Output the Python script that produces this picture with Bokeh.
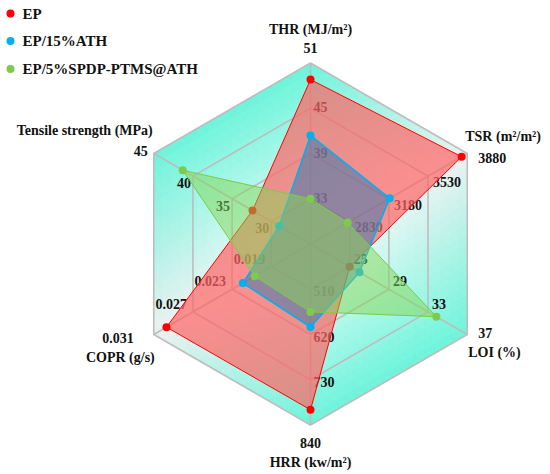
import math
from bokeh.plotting import figure
from bokeh.models import Range1d, ColumnDataSource
from bokeh.core.properties import value
from bokeh.embed import file_html
from bokeh.resources import INLINE

# ---------------- data ----------------
axis_titles = ["THR (MJ/m\u00b2)", "TSR (m\u00b2/m\u00b2)", "LOI (%)", "HRR (kw/m\u00b2)",
               "COPR (g/s)", "Tensile strength (MPa)"]
axis_min = [27, 2480, 21, 400, 0.015, 25]
axis_max = [51, 3880, 37, 840, 0.031, 45]
thr_ticks = ["33", "39", "45", "51"]
tsr_ticks = ["2830", "3180", "3530", "3880"]
loi_ticks = ["25", "29", "33", "37"]
hrr_ticks = ["510", "620", "730", "840"]
copr_ticks = ["0.019", "0.023", "0.027", "0.031"]
ts_ticks = ["30", "35", "40", "45"]
tick_labels = [thr_ticks, tsr_ticks, loi_ticks, hrr_ticks, copr_ticks, ts_ticks]

series_names = ["EP", "EP/15%ATH", "EP/5%SPDP-PTMS@ATH"]
ep = [48.8, 3830, 25.0, 803, 0.0297, 32.4]
ep_ath = [41.4, 3187, 26.0, 602, 0.0219, 29.0]
ep_spdp = [33.0, 2812, 33.85, 565, 0.0207, 41.3]
series_values = [ep, ep_ath, ep_spdp]

# ---------------- styling ----------------
R = 181.0  # radius in px (1 data unit = 1 px)
angles = [90, 30, -30, -90, -150, 150]
line_colors = ["#FF0000", "#00B0F0", "#7CCB4A"]
fill_colors = ["#FF6464", "#3C7AAE", "#86D656"]
fill_alphas = [0.7, 0.55, 0.5]
line_widths = [1.0, 1.5, 1.0]
FONT = value("'Liberation Serif', serif")

def vert(i, frac):
    a = math.radians(angles[i])
    return frac * R * math.cos(a), frac * R * math.sin(a)

p = figure(width=550, height=474, x_range=Range1d(-310, 240), y_range=Range1d(-230.5, 243.5),
           x_axis_type=None, y_axis_type=None, toolbar_location=None, output_backend="svg",
           min_border=0, outline_line_color=None, background_fill_color="white",
           border_fill_color="white")

# ---------------- gradient background (Gouraud-like) ----------------
cyan = (108, 244, 218)
whiteish = (236, 240, 240)
center_col = (250, 252, 252)
vcols = [cyan, whiteish, cyan, cyan, whiteish, cyan]

def mix(w0, w1, w2, c0, c1, c2):
    return "#%02x%02x%02x" % tuple(int(round(w0 * c0[k] + w1 * c1[k] + w2 * c2[k])) for k in range(3))

N = 18
bx, by, bc = [], [], []
for i in range(6):
    j = (i + 1) % 6
    v1 = vert(i, 1.0)
    v2 = vert(j, 1.0)
    def pt(a, b):
        return (a / N * v1[0] + b / N * v2[0], a / N * v1[1] + b / N * v2[1])
    for a in range(N):
        for b in range(N - a):
            tris = [[(a, b), (a + 1, b), (a, b + 1)]]
            if a + b < N - 1:
                tris.append([(a + 1, b), (a + 1, b + 1), (a, b + 1)])
            for tri in tris:
                ca = sum(t[0] for t in tri) / 3 / N
                cb = sum(t[1] for t in tri) / 3 / N
                pts = [pt(*t) for t in tri]
                bx.append([q[0] for q in pts])
                by.append([q[1] for q in pts])
                bc.append(mix(ca, cb, 1 - ca - cb, vcols[i], vcols[j], center_col))
p.patches(bx, by, fill_color=bc, line_color=bc, line_width=0.6)

# ---------------- grid ----------------
rx, ry = [], []
for k in range(1, 5):
    f = k / 4
    pts = [vert(i, f) for i in range(6)] + [vert(0, f)]
    rx.append([q[0] for q in pts])
    ry.append([q[1] for q in pts])
for i in range(6):
    v = vert(i, 1.0)
    rx.append([0, v[0]])
    ry.append([0, v[1]])
p.multi_line(rx, ry, line_color="#BDBDBD", line_width=1.6)

# ---------------- labels (under the polygons) ----------------
inner_off = [(3, -1, "left"), (5, 6, "left"), (4, -8, "left"), (3, 2, "left"),
             (-6, -8, "right"), (-2, 7, "right")]
outer_off = [(0, -15, "center"), (11, 4, "left"), (11, -2, "left"), (0, 18, "center"),
             (-20, 3, "right"), (-6, -3, "right")]
title_off = [(0, -34, "center"), (-2, -17, "left"), (1, 18, "left"), (0, 37, "center"),
             (1, 23, "right"), (-1, -23, "right")]

groups = {"left": dict(x=[], y=[], t=[]), "right": dict(x=[], y=[], t=[]),
          "center": dict(x=[], y=[], t=[])}
for i in range(6):
    for k in range(4):
        vx, vy = vert(i, (k + 1) / 4)
        dx, dy, al = inner_off[i] if k < 3 else outer_off[i]
        groups[al]["x"].append(vx + dx)
        groups[al]["y"].append(vy - dy)
        groups[al]["t"].append(tick_labels[i][k])
    vx, vy = vert(i, 1.0)
    dx, dy, al = title_off[i]
    groups[al]["x"].append(vx + dx)
    groups[al]["y"].append(vy - dy)
    groups[al]["t"].append(axis_titles[i])
for al, g in groups.items():
    src = ColumnDataSource(dict(x=g["x"], y=g["y"], text=g["t"]))
    p.text(x="x", y="y", text="text", source=src, text_font=FONT, text_font_style="bold",
           text_font_size="14px", text_align=al, text_baseline="middle", text_color="#111111")

# ---------------- series ----------------
for s, vals in enumerate(series_values):
    xs, ys = [], []
    for i in range(6):
        frac = (vals[i] - axis_min[i]) / (axis_max[i] - axis_min[i])
        vx, vy = vert(i, frac)
        xs.append(vx)
        ys.append(vy)
    p.patch(xs, ys, fill_color=fill_colors[s], fill_alpha=fill_alphas[s],
            line_color=line_colors[s], line_width=line_widths[s])
    p.scatter(xs, ys, size=8, marker="circle", fill_color=line_colors[s], line_color=None)

# ---------------- legend ----------------
leg_x = [10 - 310] * 3
leg_y = [243.5 - 13, 243.5 - 40.5, 243.5 - 68.5]
p.scatter(leg_x, leg_y, size=8, marker="circle", fill_color=line_colors, line_color=None)
p.text(x=[x + 12 for x in leg_x], y=leg_y, text=series_names, text_font=FONT,
       text_font_style="bold", text_font_size="15px", text_align="left",
       text_baseline="middle", text_color="#111111")

open("out.html", "w").write(file_html(p, INLINE))
